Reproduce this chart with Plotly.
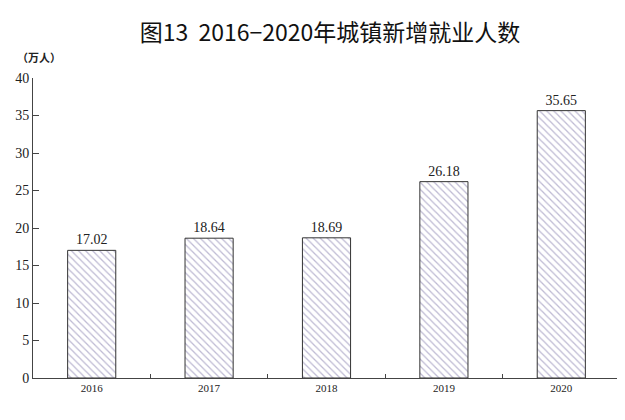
import plotly.graph_objects as go

years = ["2016", "2017", "2018", "2019", "2020"]
values = [17.02, 18.64, 18.69, 26.18, 35.65]
value_labels = ["17.02", "18.64", "18.69", "26.18", "35.65"]
y_ticks = [0, 5, 10, 15, 20, 25, 30, 35, 40]

serif = "Liberation Serif, Times New Roman, serif"

W, H = 617, 412

fig = go.Figure()
fig.add_trace(go.Bar(
    x=years, y=values,
    text=value_labels, textposition="outside",
    textfont=dict(family=serif, size=14, color="#222"),
    cliponaxis=False,
    marker=dict(
        color="white",
        line=dict(color="#333", width=1),
        pattern=dict(shape="\\", fgcolor="#7e76a8", bgcolor="white", size=5, solidity=0.25),
    ),
    width=0.41,
))

fig.update_layout(
    width=W, height=H,
    margin=dict(l=25, r=5, t=70, b=42),
    paper_bgcolor="white", plot_bgcolor="white",
    showlegend=False,
    title=dict(
        text="图13  2016−2020年城镇新增就业人数",
        font=dict(family="Noto Sans CJK SC", size=23, color="#111"),
        x=322 / W, xanchor="center", xref="container",
        y=1 - 25 / H, yanchor="middle", yref="container",
    ),
    xaxis=dict(
        type="category", range=[-0.5, 4.5],
        showline=True, linecolor="#444", linewidth=1,
        ticks="inside", ticklen=4, tickcolor="#444", tickson="boundaries",
        tickfont=dict(family=serif, size=11, color="#222"),
        showgrid=False,
    ),
    yaxis=dict(
        range=[0, 40], tickvals=y_ticks,
        showline=True, linecolor="#444", linewidth=1,
        ticks="inside", ticklen=6, tickcolor="#444",
        tickfont=dict(family=serif, size=14, color="#222"),
        showgrid=False, zeroline=False,
    ),
    annotations=[dict(
        text="<b>（万人）</b>", xref="paper", yref="paper",
        x=-0.031, y=1.07, xanchor="left", yanchor="middle",
        showarrow=False,
        font=dict(family="Noto Sans CJK SC", size=11, color="#222"),
    )],
)

fig.write_html("out.html")
